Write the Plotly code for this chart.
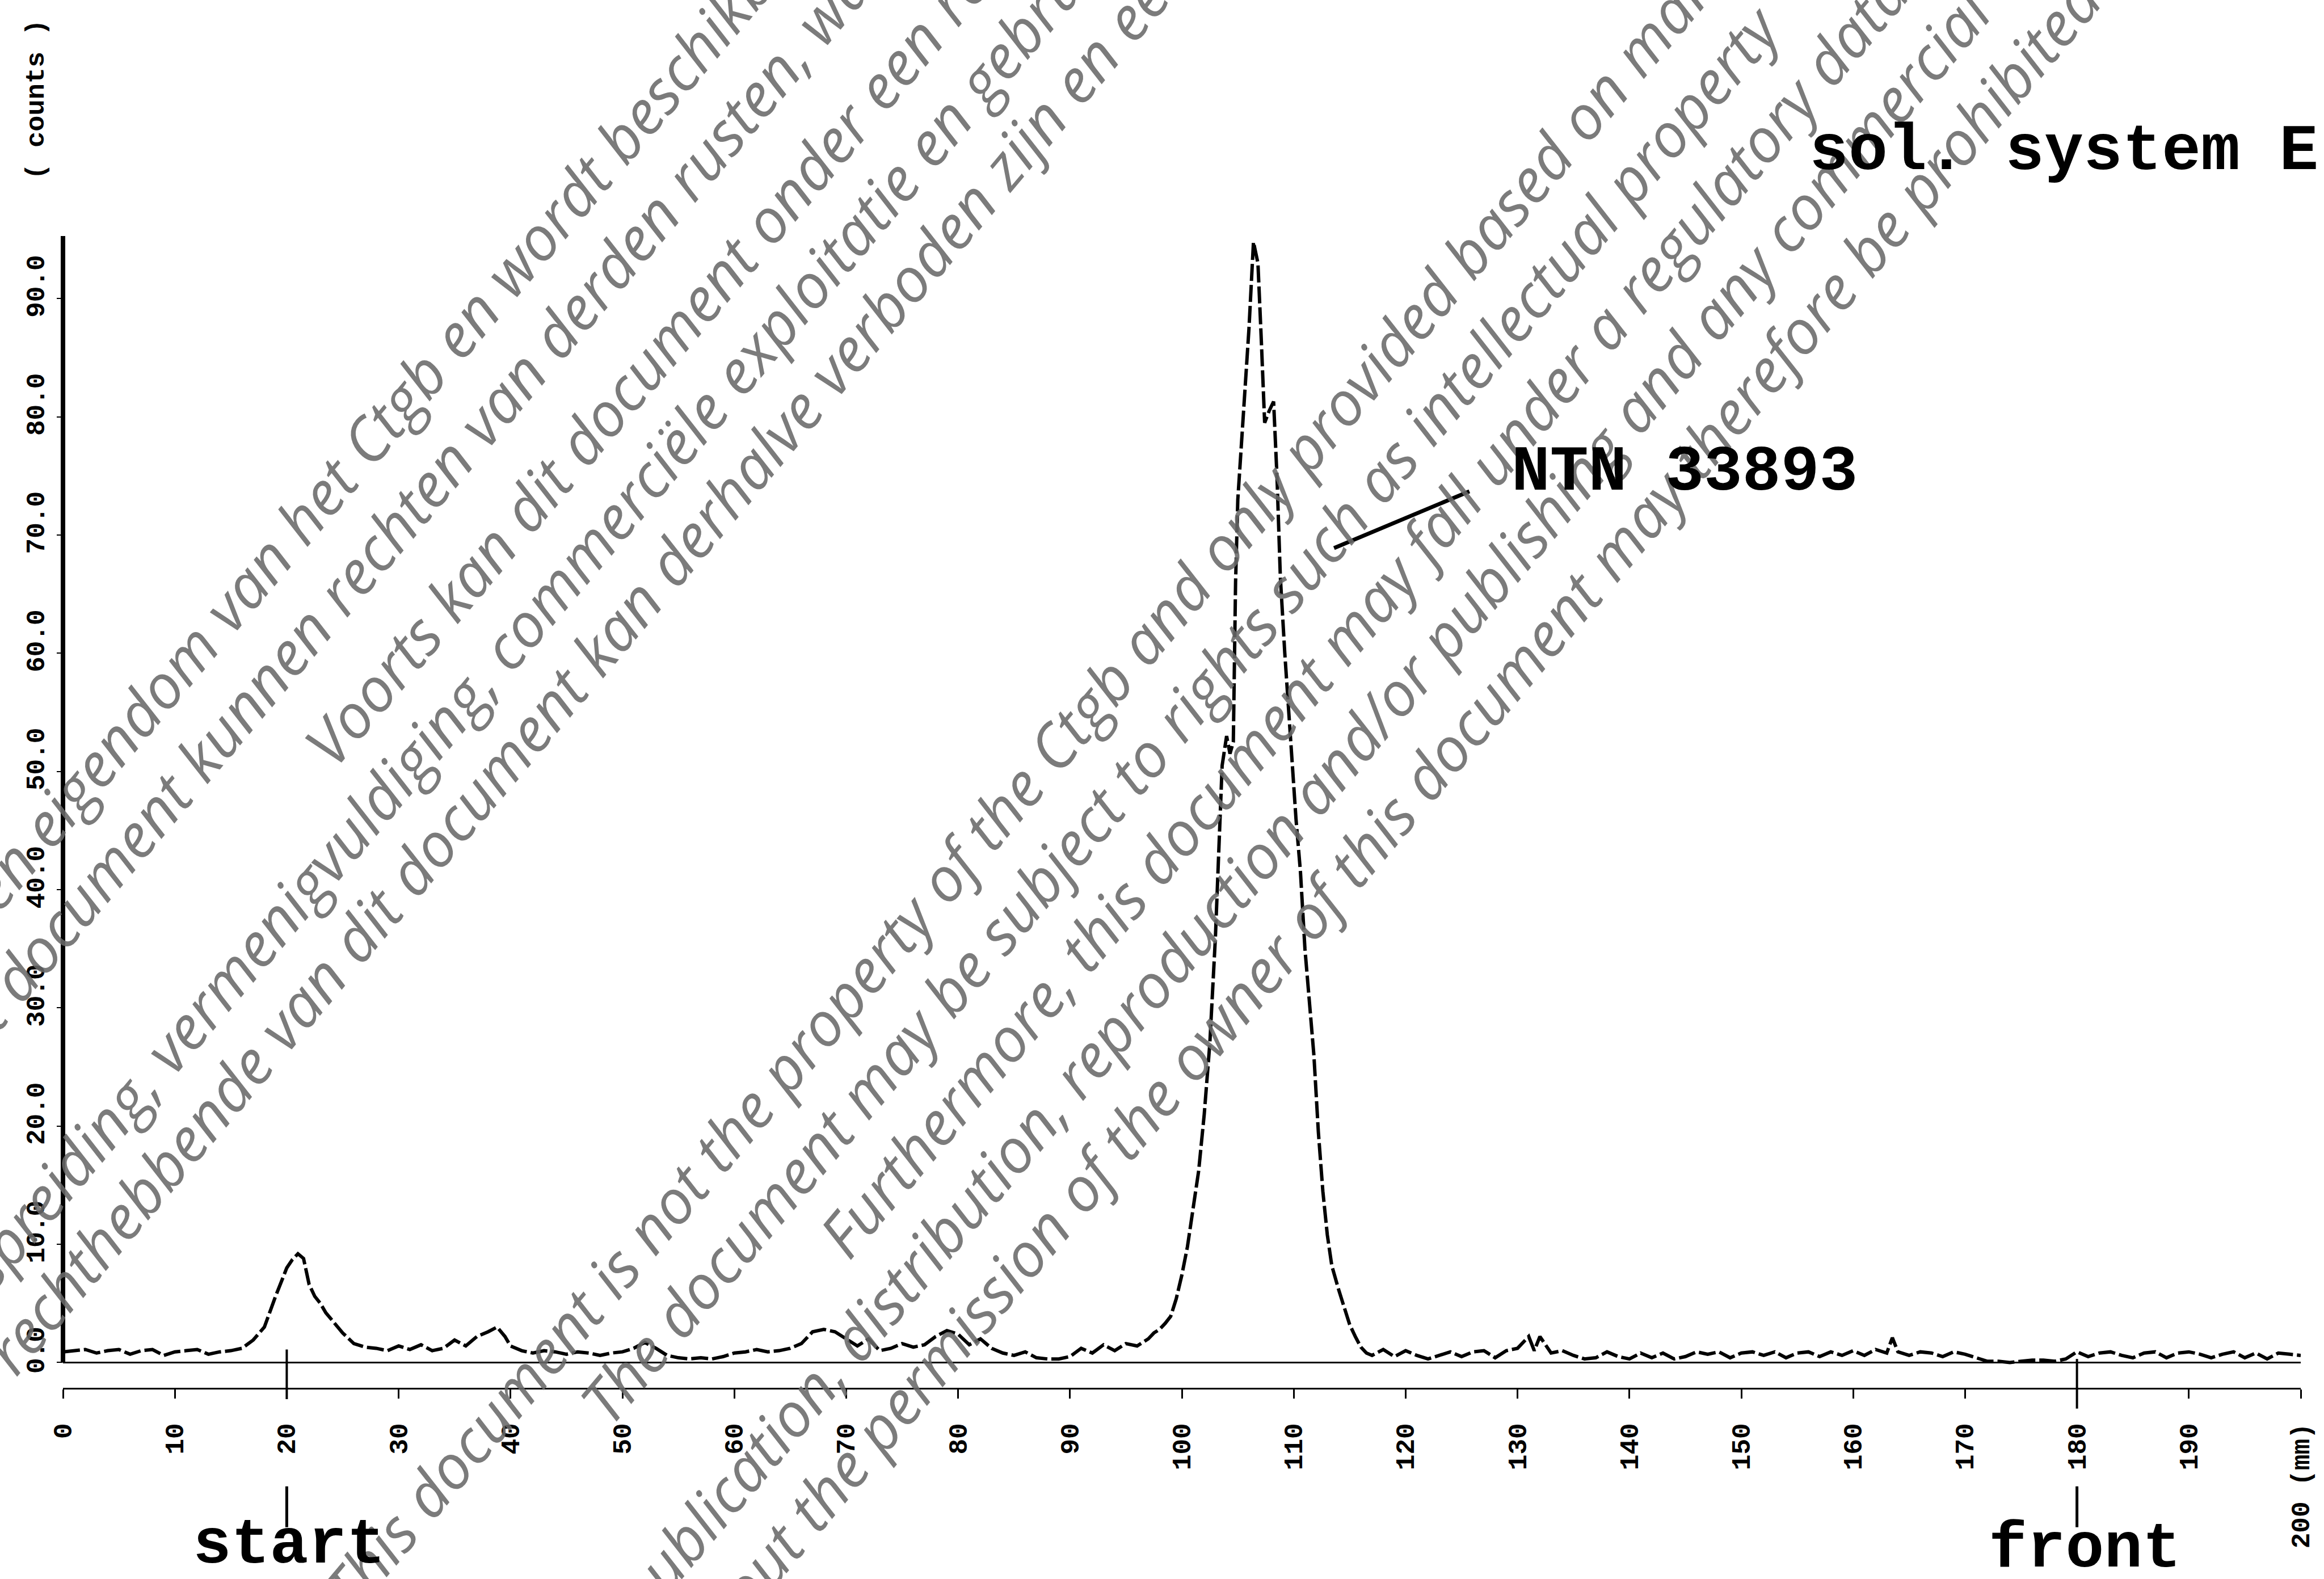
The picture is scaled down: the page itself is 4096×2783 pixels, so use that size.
import math
import plotly.graph_objects as go

# ---------------- data (read from the radio-scan) ----------------
position_mm = [
    0, 1, 2, 3, 4, 5, 6, 7, 8, 9, 10, 11, 12, 13, 14, 15, 16, 17, 18, 19, 19.5,
    20, 20.5, 21, 21.5, 22, 22.5, 23, 23.5, 24, 25, 26, 27, 28, 29, 30, 31, 32,
    33, 34, 35, 36, 37, 38, 38.8, 39.5, 40, 41, 42, 43, 44, 45, 46, 47, 48, 49,
    50, 51, 52, 53, 54, 55, 56, 57, 58, 59, 60, 61, 62, 63, 64, 65, 66, 67, 68,
    69, 70, 71, 72, 73, 74, 75, 76, 77, 78, 79, 80, 81, 82, 83, 84, 85, 86, 87,
    88, 89, 90, 91, 92, 93, 94, 95, 96, 97, 97.5, 98, 98.5, 99, 99.5, 100,
    100.5, 101, 101.5, 102, 102.5, 103, 103.3, 103.6, 104, 104.3, 104.6, 104.8,
    105, 105.5, 106, 106.4, 106.8, 107.1, 107.4, 107.8, 108.2, 108.5, 108.8,
    109.2, 109.7, 110.2, 110.6, 111, 111.4, 111.8, 112.2, 112.6, 113, 113.4,
    114, 114.5, 115, 115.5, 116, 116.5, 117, 118, 119, 120, 121, 122, 123, 124,
    125, 126, 127, 128, 129, 130, 131, 131.5, 132, 133, 134, 135, 136, 137, 138,
    139, 140, 141, 142, 143, 144, 145, 146, 147, 148, 149, 150, 151, 152, 153,
    154, 155, 156, 157, 158, 159, 160, 161, 162, 163, 163.5, 164, 165, 166, 167,
    168, 169, 170, 171, 172, 173, 174, 175, 176, 177, 178, 179, 180, 181, 182,
    183, 184, 185, 186, 187, 188, 189, 190, 191, 192, 193, 194, 195, 196, 197,
    198, 199, 200,
]
counts = [
    0.9, 1.0, 1.1, 0.8, 1.0, 1.1, 0.7, 1.0, 1.1, 0.6, 0.9, 1.0, 1.1, 0.7, 0.9, 1.0, 1.2, 1.9, 3.0, 5.6, 6.8,
    8.0, 8.7, 9.2, 8.8, 6.6, 5.6, 5.0, 4.2, 3.6, 2.5, 1.6, 1.3, 1.2, 1.0, 1.4, 1.1, 1.5,
    1.0, 1.2, 1.9, 1.4, 2.2, 2.6, 3.0, 2.2, 1.4, 1.0, 0.8, 1.0, 0.9, 0.7, 0.9, 0.8, 0.6, 0.8,
    0.9, 1.2, 1.7, 1.2, 0.6, 0.4, 0.3, 0.4, 0.3, 0.5, 0.8, 0.9, 1.1, 0.9, 1.0, 1.2, 1.6, 2.6, 2.8,
    2.6, 2.0, 1.4, 2.0, 1.0, 1.2, 1.6, 1.3, 1.5, 2.2, 2.7, 2.4, 1.5, 2.0, 1.2, 0.8, 0.6, 0.9, 0.4,
    0.3, 0.3, 0.5, 1.2, 0.8, 1.5, 1.0, 1.6, 1.4, 2.0, 2.5, 2.8, 3.3, 3.9, 5.4, 7.4,
    9.8, 12.8, 16.2, 21.0, 27.0, 36.0, 44.0, 50.5, 53.0, 51.5, 52.5, 66.0,
    73.0, 80.0, 87.5, 94.8, 93.0, 86.5, 79.5, 80.5, 81.3, 75.0, 66.5,
    60.0, 53.0, 46.0, 41.5, 35.0, 30.5, 26.0, 19.5, 14.5, 10.8, 8.2,
    6.2, 4.6, 3.2, 2.2, 1.3, 0.8, 0.6, 1.1, 0.5, 1.0, 0.6, 0.3, 0.6, 0.9,
    0.5, 0.9, 1.0, 0.4, 1.0, 1.2, 2.2, 1.0, 2.2, 0.8, 1.0, 0.6, 0.3, 0.4, 0.9,
    0.5, 0.3, 0.8, 0.4, 0.8, 0.3, 0.5, 0.9, 0.7, 0.9, 0.4, 0.8, 0.9, 0.6, 0.9,
    0.4, 0.8, 0.9, 0.5, 0.9, 0.6, 1.0, 0.6, 1.1, 0.8, 2.1, 0.9, 0.6, 0.9, 0.8,
    0.5, 0.9, 0.7, 0.4, 0.1, 0.1, 0.0, 0.1, 0.2, 0.2, 0.1, 0.3, 0.9, 0.5, 0.8,
    0.9, 0.6, 0.4, 0.8, 0.9, 0.4, 0.8, 0.9, 0.7, 0.4, 0.7, 0.9, 0.4, 0.8, 0.3,
    0.8, 0.7, 0.6,
]

x_tick_values = list(range(0, 201, 10))
x_tick_labels = [str(v) for v in range(0, 200, 10)] + ["200 (mm)"]
y_tick_values = list(range(0, 100, 10))
y_tick_labels = [f"{v}.0" for v in range(0, 100, 10)]

y_title = "( counts )"
system_label = "sol. system E"
peak_label = "NTN 33893"
start_label, start_mm = "start", 20
front_label, front_mm = "front", 180
peak_pointer_mm = [113.6, 125.7]
peak_pointer_counts = [68.9, 73.7]

watermark_lines = [
    "en eigendom van het Ctgb en wordt beschikbaar",
    "Op dit document kunnen rechten van derden rusten, waaronder",
    "Voorts kan dit document onder een regelgevend",
    "verspreiding, vermenigvuldiging, commerciële exploitatie en gebruik",
    "rechthebbende van dit document kan derhalve verboden zijn en een overtreding",
    "This document is not the property of the Ctgb and only provided based on mandatory",
    "The document may be subject to rights such as intellectual property",
    "Furthermore, this document may fall under a regulatory data protection",
    "publication, distribution, reproduction and/or publishing and any commercial exploitation",
    "without the permission of the owner of this document may therefore be prohibited and",
]

# ---------------- layout geometry ----------------
W, H = 4096, 2783
K = W / 4656.0
ML, MR, MT, MB = 111.0, 40.6, 416.4, 336.7
PW, PH = W - ML - MR, H - MT - MB
X_RANGE = [0, 200]
Y_RANGE = [-2.14, 95.3]


def paper_xy(px, py):
    return (px - ML) / PW, (H - MB - py) / PH


def paper_y_of_value(v):
    return (v - Y_RANGE[0]) / (Y_RANGE[1] - Y_RANGE[0])


def paper_y_of_px(py):
    return (H - MB - py) / PH


MONO = "Liberation Mono"
fig = go.Figure()
fig.add_trace(go.Scatter(
    x=position_mm, y=counts, mode="lines",
    line=dict(color="black", width=6, dash="30px,7px"),
    hoverinfo="skip", showlegend=False,
))

shapes = []
# y axis line (from 0 counts upward)
shapes.append(dict(type="line", xref="paper", yref="y", x0=0, x1=0, y0=0, y1=Y_RANGE[1],
                   line=dict(color="black", width=8)))
# zero baseline
shapes.append(dict(type="line", xref="x", yref="y", x0=0, x1=200, y0=0, y1=0,
                   line=dict(color="black", width=3)))
# start / front markers
for mm, top, bot in [(start_mm, 1.1, -3.1), (front_mm, 0.3, -3.9)]:
    shapes.append(dict(type="line", xref="x", yref="paper", x0=mm, x1=mm,
                       y0=paper_y_of_value(top), y1=paper_y_of_value(bot),
                       line=dict(color="black", width=4)))
    shapes.append(dict(type="line", xref="x", yref="paper", x0=mm, x1=mm,
                       y0=paper_y_of_px(2620), y1=paper_y_of_px(2692),
                       line=dict(color="black", width=5)))
# leader line to the peak label
shapes.append(dict(type="line", xref="x", yref="y",
                   x0=peak_pointer_mm[0], x1=peak_pointer_mm[1],
                   y0=peak_pointer_counts[0], y1=peak_pointer_counts[1],
                   line=dict(color="black", width=7)))

annotations = []
# watermark (diagonal grey text)
theta = math.radians(50)
st, ct = math.sin(theta), math.cos(theta)
wm_geometry = [(1130, -97), (1282, -149), (1460, 545), (1608, -322), (1752, 73),
               (2578, 286), (2730, 423), (2882, 1108), (3034, 778), (3186, 604)]
for text, (c, s) in zip(watermark_lines, wm_geometry):
    fx = st * c + ct * s
    fy = ct * c - st * s
    px_, py_ = paper_xy(fx * K, fy * K)
    annotations.append(dict(
        text=text, xref="paper", yref="paper", x=px_, y=py_,
        xanchor="center", yanchor="middle", showarrow=False, textangle=-50,
        font=dict(family="Open Sans", size=108, style="italic", color="rgba(105,105,105,0.88)"),
    ))

px_, py_ = paper_xy(64.5, 176.3)
annotations.append(dict(text=y_title, xref="paper", yref="paper", x=px_, y=py_,
                        xanchor="center", yanchor="middle", showarrow=False, textangle=-90,
                        font=dict(family=MONO, size=47, weight="bold", color="black")))
px_, py_ = paper_xy(3187, 268)
annotations.append(dict(text=system_label, xref="paper", yref="paper", x=px_, y=py_,
                        xanchor="left", yanchor="middle", showarrow=False,
                        font=dict(family=MONO, size=115, weight="bold", color="black")))
px_, py_ = paper_xy(2662, 833)
annotations.append(dict(text=peak_label, xref="paper", yref="paper", x=px_, y=py_,
                        xanchor="left", yanchor="middle", showarrow=False,
                        font=dict(family=MONO, size=113, weight="bold", color="black")))
for label, mm, py, shift in [(start_label, start_mm, 2724, 4), (front_label, front_mm, 2731, 14)]:
    annotations.append(dict(text=label, xref="x", yref="paper", x=mm, y=paper_y_of_px(py),
                            xanchor="center", yanchor="middle", showarrow=False, xshift=shift,
                            font=dict(family=MONO, size=113, weight="bold", color="black")))

fig.update_layout(
    template="none",
    width=W, height=H,
    margin=dict(l=ML, r=MR, t=MT, b=MB, pad=0),
    paper_bgcolor="white", plot_bgcolor="white",
    showlegend=False,
    shapes=shapes, annotations=annotations,
    xaxis=dict(range=X_RANGE, tickmode="array", tickvals=x_tick_values, ticktext=x_tick_labels,
               showline=True, linecolor="black", linewidth=3, ticks="outside", ticklen=16,
               tickwidth=3, tickcolor="black", tickangle=-90, ticklabelstandoff=25,
               tickfont=dict(family=MONO, size=46, weight="bold", color="black"),
               showgrid=False, zeroline=False, automargin=False, fixedrange=True),
    yaxis=dict(range=Y_RANGE, tickmode="array", tickvals=y_tick_values, ticktext=y_tick_labels,
               showline=False, ticks="outside", ticklen=10, tickwidth=2, tickcolor="black",
               tickangle=-90, ticklabelstandoff=4, ticklabelshift=-15,
               tickfont=dict(family=MONO, size=46, weight="bold", color="black"),
               showgrid=False, zeroline=False, automargin=False, fixedrange=True),
)

fig.write_html("out.html")
